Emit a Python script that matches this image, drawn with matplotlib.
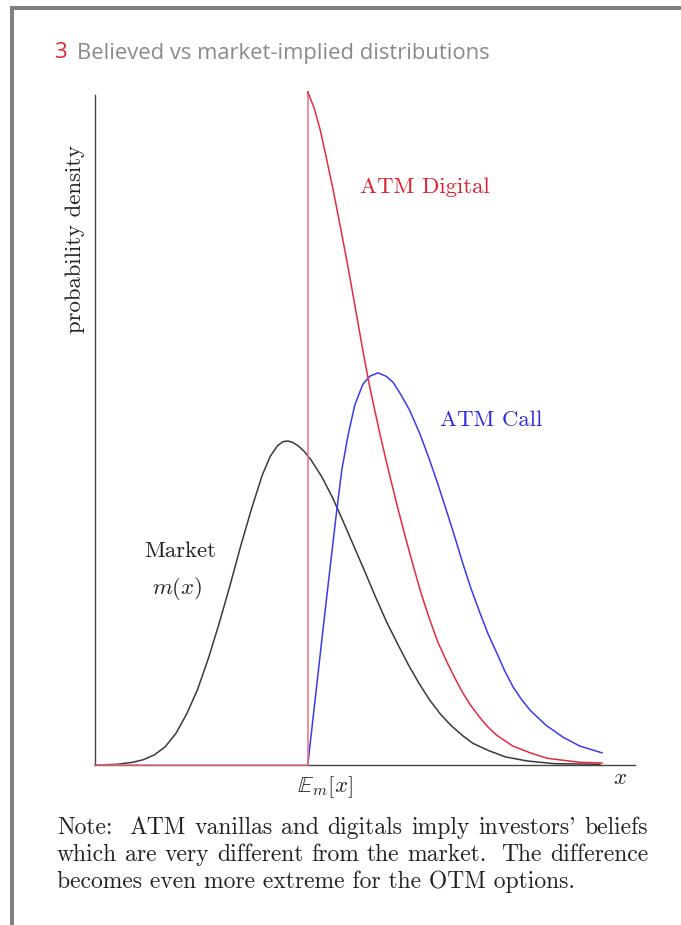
import matplotlib
matplotlib.use("Agg")
import matplotlib.pyplot as plt
from matplotlib.patches import Rectangle

plt.rcParams['mathtext.fontset'] = 'cm'
plt.rcParams['axes.unicode_minus'] = False

# curves (x: 0..10 along the axis, y: density, 1 = top of axis)
strike = 3.94

market_x = [0.0, 0.4, 0.7, 0.9, 1.1, 1.3, 1.5, 1.7, 1.9, 2.1, 2.3, 2.5, 2.7, 2.9,
            3.1, 3.25, 3.38, 3.48, 3.57, 3.66, 3.76, 3.87, 4.0, 4.2, 4.4, 4.6, 4.8,
            5.0, 5.2, 5.4, 5.6, 5.8, 6.0, 6.2, 6.4, 6.6, 6.8, 7.0, 7.3, 7.6, 8.0,
            8.5, 9.35]
market_y = [0.0, 0.001, 0.004, 0.008, 0.015, 0.027, 0.047, 0.076, 0.112, 0.158,
            0.210, 0.266, 0.325, 0.380, 0.430, 0.458, 0.473, 0.479, 0.480, 0.478,
            0.473, 0.465, 0.452, 0.427, 0.396, 0.360, 0.323, 0.286, 0.248, 0.212,
            0.180, 0.149, 0.121, 0.096, 0.075, 0.058, 0.044, 0.032, 0.021, 0.012,
            0.006, 0.002, 0.001]

digital_x = [3.94, 4.06, 4.17, 4.28, 4.41, 4.54, 4.69, 4.83, 4.96, 5.09, 5.28, 5.43,
             5.59, 5.74, 5.89, 6.04, 6.20, 6.35, 6.52, 6.67, 6.81, 6.96, 7.13, 7.28,
             7.44, 7.74, 8.06, 8.37, 8.67, 8.98, 9.39]
digital_y = [0.997, 0.973, 0.941, 0.901, 0.852, 0.799, 0.736, 0.673, 0.614, 0.559,
             0.489, 0.438, 0.386, 0.340, 0.296, 0.254, 0.215, 0.182, 0.152, 0.128,
             0.107, 0.088, 0.070, 0.056, 0.044, 0.028, 0.018, 0.010, 0.007, 0.004,
             0.003]

call_x = [3.94, 4.07, 4.20, 4.33, 4.46, 4.57, 4.69, 4.81, 4.96, 5.09, 5.24, 5.39,
          5.52, 5.67, 5.83, 6.02, 6.20, 6.35, 6.52, 6.67, 6.81, 6.96, 7.13, 7.28,
          7.44, 7.59, 7.74, 7.89, 8.06, 8.35, 8.67, 8.98, 9.39]
call_y = [0.0, 0.092, 0.185, 0.276, 0.366, 0.437, 0.490, 0.533, 0.564, 0.576, 0.581,
          0.576, 0.567, 0.548, 0.525, 0.490, 0.451, 0.416, 0.374, 0.336, 0.299, 0.262,
          0.225, 0.194, 0.166, 0.139, 0.116, 0.098, 0.081, 0.059, 0.041, 0.028, 0.018]

note_lines = ["Note:  ATM vanillas and digitals imply investors' beliefs",
              "which are very different from the market.  The difference",
              "becomes even more extreme for the OTM options."]

W, H = 681, 925
serif = ['cmr10', 'DejaVu Serif']
ink = '#222222'
fig = plt.figure(figsize=(W / 100, H / 100), dpi=100)
renderer = fig.canvas.get_renderer()

# slide frame
fig.add_artist(Rectangle((10 / W, 0), 4 / W, 1 - 6 / H, transform=fig.transFigure,
                         color='#808080', lw=0))
fig.add_artist(Rectangle((10 / W, 1 - 10 / H), 1, 4 / H, transform=fig.transFigure,
                         color='#808080', lw=0))

# title
num = fig.text(55 / W, 1 - 53 / H, "3", color='#e0202e', fontsize=15.8,
               family='Open Sans', va='center')
nw = num.get_window_extent(renderer).width
fig.text((55 + nw + 9) / W, 1 - 53 / H, "Believed vs market-implied distributions",
         color='#8a8a8a', fontsize=15.8, family='Open Sans', va='center')

ax = fig.add_axes([95 / W, (H - 765) / H, 540 / W, 670 / H])
ax.set_xlim(0, 10)
ax.set_ylim(0, 670 / 675)
for s in ['top', 'right']:
    ax.spines[s].set_visible(False)
for s in ['left', 'bottom']:
    ax.spines[s].set_color('#444444')
    ax.spines[s].set_linewidth(1.0)
ax.set_xticks([])
ax.set_yticks([])

ax.plot(market_x, market_y, color='#3a3a3a', lw=1.1, clip_on=False, zorder=3)
ax.plot(call_x, call_y, color='#3a3aee', lw=1.1, clip_on=False, zorder=3)
# digital: zero below the strike, then the jump
ax.plot([0, strike, strike], [0, 0, digital_y[0]], color='#e8707c', lw=1.1,
        clip_on=False, zorder=4)
ax.plot(digital_x, digital_y, color='#e52a40', lw=1.1, clip_on=False, zorder=4)

fs = 16.4
ax.text(4.91, 0.856, "ATM Digital", color='#e0202e', fontsize=fs, family=serif,
        va='center', ha='left')
ax.text(6.39, 0.511, "ATM Call", color='#2b2be0', fontsize=fs, family=serif,
        va='center', ha='left')
ax.text(1.57, 0.316, "Market", color=ink, fontsize=fs, family=serif,
        va='center', ha='center')
ax.text(1.52, 0.262, "$m(x)$", color=ink, fontsize=fs, va='center', ha='center')
ax.text(strike + 0.32, -0.033, r"$\mathbb{E}_m[x]$", color=ink, fontsize=fs,
        va='center', ha='center')
ax.text(9.72, -0.018, "$x$", color=ink, fontsize=fs, va='center', ha='center')
ax.text(-0.37, 0.78, "probability density", color=ink, fontsize=fs,
        family=serif, rotation=90, va='center', ha='center')

# note, justified like the slide (wider space after a sentence)
left, right = 57, 648
nfs = 17
for i, line in enumerate(note_lines):
    y = 1 - (828 + 27 * i) / H
    if i == len(note_lines) - 1:
        fig.text(left / W, y, line, fontsize=nfs, family=serif, color=ink, va='center')
        continue
    words = line.split()
    arts = [fig.text(0, y, w, fontsize=nfs, family=serif, color=ink, va='center')
            for w in words]
    widths = [a.get_window_extent(renderer).width for a in arts]
    weights = [1.9 if w[-1] in '.:' else 1.0 for w in words[:-1]]
    gap = (right - left - sum(widths)) / sum(weights)
    x = left
    for k, (a, w) in enumerate(zip(arts, widths)):
        a.set_x(x / W)
        if k < len(weights):
            x += w + gap * weights[k]

fig.savefig("out.png", dpi=100)
